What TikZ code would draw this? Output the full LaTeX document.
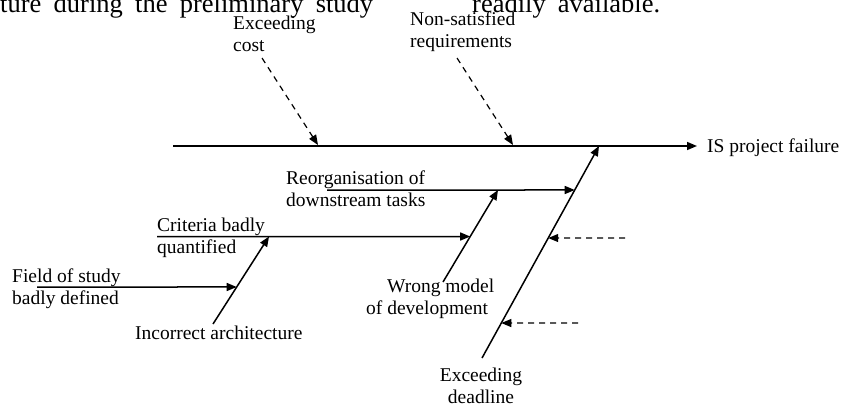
\documentclass[tikz,border=0pt]{standalone}
\usepackage{fontspec}
\setmainfont{Liberation Serif}
\usetikzlibrary{arrows.meta,calc}

\begin{document}
\begin{tikzpicture}[x=1pt,y=-1pt,
  lbl/.style={inner sep=0pt, align=left, font=\fontsize{19.5}{22}\selectfont},
  pagetext/.style={inner sep=0pt, anchor=base west, font=\fontsize{26.5}{30}\selectfont},
  tip/.style={-{Triangle[length=10pt,width=8pt]}},
  bone/.style={line width=1.5pt, tip},
  cause/.style={line width=1.2pt, dash pattern=on 6pt off 5pt, tip},
]
\useasboundingbox (0,0) rectangle (842,408);

% running text of the page, cut at the top edge
\begin{scope}
  \clip (0,0) rectangle (842,408);
  \node[pagetext] (col1) at (0,12.5) {\makebox[373pt][s]{ture during the preliminary study}};
  \node[pagetext] (col2) at (472,12.5) {\makebox[188pt][s]{readily available.}};
\end{scope}

% effect and main spine
\coordinate (sp0) at (173,146);
\node[lbl, anchor=base west] (fail) at (707,152) {IS project failure};
\draw[bone, shorten >=10pt] (sp0) -- (sp0 -| fail.west);

% direct causes on the spine (two-line labels: base = last line)
\node[lbl, anchor=base west] (cost) at (233,51) {Exceeding\\cost};
\node[lbl, anchor=base west] (nonsat) at (410,47) {Non-satisfied\\requirements};
\coordinate (cs) at (262,58);
\coordinate (jc) at (318,145);
\coordinate (ns) at (457,58);
\coordinate (jr) at (513,145);
\draw[cause] (cs) -- (jc);
\draw[cause] (ns) -- (jr);

% deadline bone
\node[lbl, align=center, anchor=base] (dead) at (481,403) {Exceeding\\deadline};
\coordinate (d0) at (482,358);
\coordinate (jd) at (599,146);
\draw[bone] (d0) -- (jd);
\coordinate (e1) at (625,238);
\coordinate (e2) at (578,323);
\draw[cause] (e1) -- ($(d0)!0.566!(jd)$);
\draw[cause] (e2) -- ($(d0)!0.165!(jd)$);

% reorganisation branch
\node[lbl, anchor=base west] (reorg) at (286,206) {Reorganisation of\\downstream tasks};
\coordinate (r0) at (327,190);
\coordinate (jdr) at ($(d0)!0.7925!(jd)$);
\draw[bone] (r0) -- (jdr);

% wrong model bone
\node[lbl, anchor=base west] (wrong) at (366,314) {\hspace*{21pt}Wrong model\\of development};
\coordinate (w0) at (443,282);
\coordinate (wr) at (498,190);
\draw[bone] (w0) -- (wr);

% criteria branch
\node[lbl, anchor=base west] (crit) at (157,253) {Criteria badly\\quantified};
\coordinate (c0) at (157,236.5);
\draw[bone] (c0) -- ($(w0)!0.4946!(wr)$);

% architecture bone
\node[lbl, anchor=base west] (arch) at (135,339) {Incorrect architecture};
\coordinate (a0) at (213,324);
\coordinate (ac) at (269,236.5);
\draw[bone] (a0) -- (ac);

% field of study branch
\node[lbl, anchor=base west] (field) at (12,304) {Field of study\\badly defined};
\coordinate (f0) at (37,287);
\draw[bone] (f0) -- ($(a0)!0.423!(ac)$);
\end{tikzpicture}
\end{document}
